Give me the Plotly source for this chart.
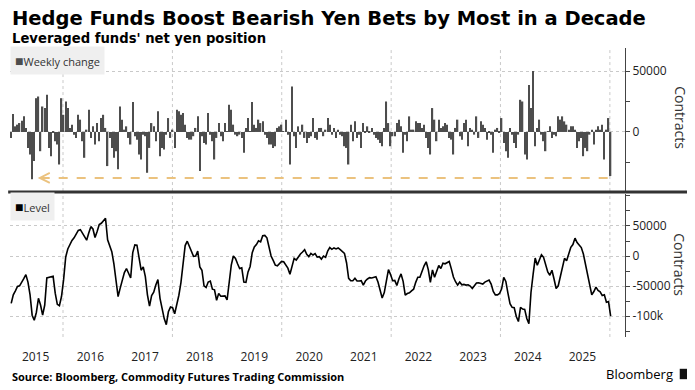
import pandas as pd
import plotly.graph_objects as go

# ---------------- data ----------------
start_date = "2015-01-20"          # first observation (biweekly sampling)
sample_freq = "14D"

# Weekly change of leveraged funds' net yen position (contracts)
weekly_change = [
    -4900, 14700, 4600, 6000, 7300, 9200, 12800, 3300, -13100, -18500,
    -38900, -23900, 27700, 29100, -15800, 20900, 19600, 30500, -13100, -19900,
    -800, -7600, -10300, -26700, 27700, 14100, 25000, 19600, 3300, 6000,
    -2200, -4900, 14100, 10100, -7600, -21200, 1900, 18200, -4900, 4600,
    -10300, 7300, -7600, 11400, 14100, 3300, -28000, -4900, -13100, -21200,
    -15800, -30700, 20900, 10100, 1900, 4600, -4900, -10300, 24500, -3500,
    -6300, -18500, -22600, -2200, -3500, -33500, -13100, 7300, 4600, -7600,
    16900, -19900, -13100, -14400, -2200, 11400, -4900, 1900, -13100, 18200,
    16900, 14100, 15500, 6000, -4900, -6300, -6300, -3500, 3300, 12800,
    -32100, -3500, -9000, -10300, 15500, -2200, -7600, -22600, -4900, 7300,
    -3500, -7600, 7300, 500, 22300, 18200, 6000, -2200, -3500, -2200,
    -4900, -17100, 3300, 11400, 500, 24500, 6000, 3300, 10100, 7300,
    8700, -2200, -4900, -10300, -10300, -13100, -11700, 3300, 4600, 6000,
    500, 10100, -2200, -26700, 37300, -3500, -13100, 4600, -2200, 6000,
    -4900, -9000, -4900, -3500, 11400, -4900, -6300, 3300, 3300, -3500,
    1900, 11400, 6000, -2200, 3300, -4900, 1900, -2200, -3500, -11700,
    -13100, -26700, 6000, -7600, 8700, -4900, -2200, -13100, 7300, -800,
    4600, -800, 3300, -2200, -4900, -6300, -9000, -11700, 3300, 25000,
    7300, -11700, -3500, -3500, 7300, 10100, 4600, -17100, -2200, -7600,
    12800, 1900, 1900, 8700, 7300, 7300, 3300, 6000, -4900, -13100,
    -18500, 19600, 10100, -7600, 10100, 3300, 4600, 7300, 6000, -4900,
    -6300, -18500, 3300, 10100, -3500, -6300, 7300, 10100, -11700, 3300,
    1900, -2200, 12800, -4900, 8700, 6000, 3300, -6300, -800, -2200,
    -17100, 1900, 3300, -800, 11400, -9000, -15800, -21200, 3300, -2200,
    -9000, -13100, -2200, 26400, 25000, -18500, -22600, 38600, 19600, 50000,
    -11700, 3300, 10100, -2200, -7600, -15800, 500, 4600, -4900, -2200,
    -3500, 12800, 10100, 12800, 8700, 6000, 1900, 4600, 4600, 1900,
    -13100, -7600, -4900, -19900, -13100, -15800, -2200, 1900, -10300, 1900,
    4600, 1900, 6000, -22600, 1900, 11400, -36200,
]

# Level of leveraged funds' net yen position (contracts)
level = [
    -78700, -64600, -57900, -50600, -49500, -42200, -37700, -30900, -43300, -64600,
    -98400, -106800, -93900, -70300, -81500, -98400, -81500, -36500, -35400, -33700,
    -33700, -61800, -80400, -82600, -67400, -39300, -1700, 11800, 19100, 25900,
    30300, 36000, 42700, 43800, 38200, 30900, 26400, 38200, 48900, 45000,
    30900, 41000, 52300, 54500, 59000, 62900, 27000, 16300, 7300, -12900,
    -36500, -67400, -53400, -38200, -27500, -20800, -28700, -36500, 5600, 18500,
    18000, -6200, -23600, -18000, -34300, -64600, -83200, -65800, -60100, -48300,
    -39300, -70300, -87100, -104000, -114100, -92700, -84900, -86000, -96100, -81500,
    -65200, -43800, -8400, 17400, 24700, 15200, 6700, -600, 0, 8400,
    -18000, -23600, -49500, -52300, -43300, -41600, -55100, -56200, -73600, -62400,
    -66900, -66900, -66300, -73100, -43300, -15200, 0, -3900, -12900, -20800,
    -19700, -43300, -43800, -26400, -17400, 5600, 15200, 19100, 25300, 23600,
    33700, 34300, 30300, 15200, 0, -7300, -15200, -16300, -12400, -9000,
    -9600, -14100, -20200, -30300, -15200, -3900, -6700, -600, 3400, 6700,
    10700, 2800, -1100, 4500, 1700, 3900, -1700, -1100, -5100, 0,
    -2200, 8400, 14100, 11200, 13500, 11800, 13500, 10700, 7900, 4500,
    -11200, -37100, -41000, -41000, -37100, -41600, -41600, -41000, -48300, -41600,
    -38200, -36000, -36500, -34800, -34300, -43300, -59000, -69700, -60700, -37700,
    -22500, -30900, -41000, -40500, -48900, -37700, -29800, -42200, -65200, -62400,
    -61300, -57900, -55100, -43800, -35400, -35400, -24700, -16300, -9600, -22500,
    -43800, -23000, -35400, -24700, -15700, -20800, -11800, -12900, -11200, -9000,
    -21400, -34800, -42700, -48300, -43300, -47800, -47200, -48300, -47800, -50000,
    -54000, -50000, -45000, -44400, -45000, -46600, -43300, -42200, -40000, -46600,
    -59000, -64600, -64600, -62400, -54500, -35400, -42200, -61800, -79200, -85400,
    -86000, -100600, -109000, -85400, -88200, -88800, -104000, -112400, -60700, -30900,
    -3400, -15200, -6700, 2200, -2200, -12900, -26400, -32000, -23600, -38200,
    -54000, -49500, -34300, -22500, -3900, -7900, 5100, 14600, 19100, 29800,
    22500, 18000, 14100, 3400, -13500, -28700, -46600, -64600, -59000, -51700,
    -57300, -59600, -65800, -64600, -77000, -75900, -100000,
]

year_labels = [str(y) for y in range(2015, 2026)]
year_label_dates = [f"{y}-07-02" for y in range(2015, 2026)]
grid_dates = [f"{y}-01-01" for y in range(2016, 2027, 2)]
x_range = ["2015-01-12", "2026-04-12"]

top_ticks = [0, 50000]
bottom_ticks = [-100000, -50000, 0, 50000]
bottom_ticktext = ["-100k", "-50000", "0", "50000"]

arrow_level = -37700
arrow_start, arrow_end = "2015-07-16", "2026-01-01"

assert len(weekly_change) == len(level)
dates = pd.date_range(start_date, periods=len(level), freq=sample_freq)

# ---------------- figure ----------------
TICK_FONT = dict(family="Open Sans", size=12, color="#222222")
GRID = "#c9c9c9"
AX = "#444444"

fig = go.Figure()
fig.add_trace(go.Bar(x=dates, y=weekly_change, marker=dict(color="#4d4d4d", line=dict(width=0)),
                     xaxis="x", yaxis="y", hoverinfo="skip"))
fig.add_trace(go.Scatter(x=dates, y=level, mode="lines", line=dict(color="#000000", width=1.6),
                         xaxis="x2", yaxis="y2", hoverinfo="skip"))

common_x = dict(range=x_range, type="date", showgrid=False, zeroline=False, showline=False)
yaxis_common = dict(side="right", showline=True, linecolor=AX, linewidth=1, ticks="outside",
                    ticklen=4, tickcolor=AX, tickfont=TICK_FONT, showgrid=True, gridcolor=GRID,
                    griddash="dot", gridwidth=1, zeroline=False,
                    minor=dict(tickmode="linear", tick0=0, dtick=25000, ticks="outside",
                               ticklen=4, tickcolor=AX, showgrid=False))

# the page body keeps an 8px margin, so the figure is 8px smaller than the window
fig.update_layout(
    width=687, height=382,
    margin=dict(l=2, r=70, t=40, b=53),
    paper_bgcolor="white", plot_bgcolor="white",
    showlegend=False, bargap=0.35,
    xaxis=dict(**common_x, anchor="y", showticklabels=False, matches="x2"),
    xaxis2=dict(**common_x, anchor="y2", tickmode="array", tickvals=year_label_dates,
                ticktext=year_labels, ticks="outside", ticklen=9, tickcolor="rgba(0,0,0,0)",
                tickfont=TICK_FONT),
    yaxis=dict(**yaxis_common, domain=[0.505, 1.0], range=[-48500, 68900],
               tickmode="array", tickvals=top_ticks, ticktext=[str(v) for v in top_ticks]),
    yaxis2=dict(**yaxis_common, domain=[0.0, 0.495], range=[-134700, 103300],
                tickmode="array", tickvals=bottom_ticks, ticktext=bottom_ticktext),
)

shapes = []
for gd in grid_dates:
    for xr, yr in (("x", "y domain"), ("x2", "y2 domain")):
        shapes.append(dict(type="line", xref=xr, yref=yr, x0=gd, x1=gd, y0=0, y1=1, layer="below",
                           line=dict(color=GRID, width=1, dash="dot")))
# separator between panels
shapes.append(dict(type="line", xref="paper", yref="paper", x0=-0.003, x1=1.12, y0=0.502, y1=0.502,
                   line=dict(color="#333333", width=3)))
# dashed orange arrow shaft
shapes.append(dict(type="line", xref="x", yref="y", x0="2015-08-05", x1=arrow_end,
                   y0=arrow_level, y1=arrow_level, line=dict(color="#EBC27E", width=2, dash="dash")))
# Bloomberg logo mark
shapes.append(dict(type="rect", xref="paper", yref="paper", x0=1.089, x1=1.104, y0=-0.146, y1=-0.110,
                   fillcolor="#111111", line=dict(width=0), layer="above"))
fig.update_layout(shapes=shapes)

ann = [
    dict(text="<b>Hedge Funds Boost Bearish Yen Bets by Most in a Decade</b>", x=0, y=1.101,
         xref="paper", yref="paper", xanchor="left", yanchor="middle", showarrow=False,
         font=dict(family="DejaVu Sans", size=19.5, color="#000000")),
    dict(text="<b>Leveraged funds' net yen position</b>", x=0, y=1.0335,
         xref="paper", yref="paper", xanchor="left", yanchor="middle", showarrow=False,
         font=dict(family="DejaVu Sans", size=13.2, color="#000000")),
    dict(text="<span style='color:#4d4d4d;font-size:14px'>■</span>Weekly change", x=0, y=0.958,
         xref="paper", yref="paper", xanchor="left", yanchor="middle", showarrow=False,
         bgcolor="#efefef", borderpad=4, font=dict(family="Open Sans", size=11, color="#333333")),
    dict(text="<span style='color:#000000;font-size:14px'>■</span>Level", x=0, y=0.453,
         xref="paper", yref="paper", xanchor="left", yanchor="middle", showarrow=False,
         bgcolor="#efefef", borderpad=4, font=dict(family="Open Sans", size=11, color="#333333")),
    dict(text="Contracts", x=1.089, y=0.758, xref="paper", yref="paper", textangle=90,
         xanchor="center", yanchor="middle",
         showarrow=False, font=dict(family="Open Sans", size=14, color="#333333")),
    dict(text="Contracts", x=1.089, y=0.249, xref="paper", yref="paper", textangle=90,
         xanchor="center", yanchor="middle",
         showarrow=False, font=dict(family="Open Sans", size=14, color="#333333")),
    dict(text="<b>Source: Bloomberg, Commodity Futures Trading Commission</b>", x=0, y=-0.138,
         xref="paper", yref="paper", xanchor="left", yanchor="middle", showarrow=False,
         font=dict(family="Open Sans", size=11, color="#000000")),
    dict(text="Bloomberg", x=1.082, y=-0.128, xref="paper", yref="paper", xanchor="right",
         yanchor="middle", showarrow=False, font=dict(family="Open Sans", size=13, color="#000000")),
    dict(text="", x=arrow_start, y=arrow_level, xref="x", yref="y", ax="2015-09-20", ay=arrow_level,
         axref="x", ayref="y", showarrow=True, arrowhead=5, arrowsize=1.3, arrowwidth=1.5,
         arrowcolor="#EBC27E"),
]
fig.update_layout(annotations=ann)

fig.write_html("out.html")
